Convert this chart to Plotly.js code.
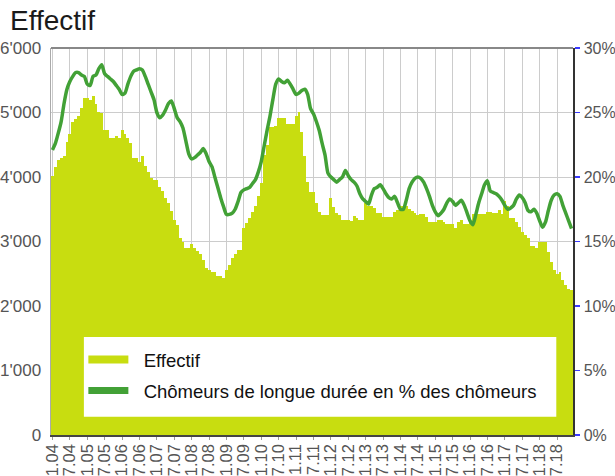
<!DOCTYPE html>
<html>
<head>
<meta charset="utf-8">
<script src="https://cdn.plot.ly/plotly-3.0.1.min.js"></script>
<style>html,body{margin:0;padding:0;background:#fff;}#chart{width:615px;height:476px;}</style>
</head>
<body>
<div id="chart"></div>
<script>
// Monthly categories Jan 2004 .. Dec 2018, labelled "m.yy"
var startYear = 2004, endYear = 2018;
var months = [];
for (var y = startYear; y <= endYear; y++) {
  for (var m = 1; m <= 12; m++) {
    months.push(m + '.' + String(y).slice(2));
  }
}
var tickLabels = months.filter(function (s) { return s.split('.')[0] === '1' || s.split('.')[0] === '7'; });

var effectif = [
  4020,4160,4260,4290,4325,4540,4665,4850,4895,4945,5065,5225,
  5225,5195,5255,5130,5015,4990,4730,4730,4610,4610,4635,4610,
  4730,4665,4610,4530,4300,4300,4240,4325,4170,4080,3980,3950,
  3950,3840,3780,3670,3590,3470,3333,3250,3050,2997,2904,2904,
  2961,2894,2858,2806,2713,2589,2560,2532,2532,2465,2465,2429,
  2558,2636,2739,2801,2868,2868,3204,3280,3359,3460,3550,3700,
  3900,4341,4496,4770,4770,4791,4910,4910,4910,4817,4817,4817,
  4946,5013,4703,4326,3928,3773,3773,3592,3463,3411,3411,3411,
  3669,3540,3447,3411,3333,3333,3333,3318,3401,3370,3333,3333,
  3592,3550,3550,3514,3437,3437,3385,3385,3385,3385,3463,3488,
  3550,3550,3550,3500,3470,3437,3411,3426,3426,3375,3307,3307,
  3307,3333,3333,3307,3271,3271,3271,3214,3307,3333,3266,3266,
  3307,3426,3426,3426,3426,3426,3462,3462,3440,3440,3488,3426,
  3633,3550,3359,3359,3300,3230,3152,3101,3049,2930,2930,2894,
  2987,2987,2987,2842,2687,2558,2500,2520,2403,2326,2270,2248
];

var partLongue = [
  22.1,22.6,23.4,24.3,25.7,26.8,27.4,27.8,28.1,28.1,27.9,27.8,
  27.2,27.1,27.8,27.9,28.4,28.7,28.0,27.8,27.6,27.4,27.1,26.8,
  26.4,26.5,27.2,27.8,28.2,28.3,28.4,28.3,27.8,27.2,26.6,26.0,
  25.0,24.6,24.8,25.2,25.7,25.9,25.3,24.6,24.3,23.8,22.8,21.8,
  21.4,21.5,21.7,21.9,22.2,21.8,21.2,20.8,20.0,19.2,18.4,17.7,
  17.1,17.1,17.2,17.5,18.1,18.8,19.0,19.1,19.2,19.5,19.8,20.4,
  21.2,22.4,23.6,24.7,26.0,27.2,27.6,27.4,27.3,27.5,27.2,26.8,
  26.4,26.5,26.7,26.8,26.4,25.3,24.9,24.3,23.6,22.6,21.7,20.3,
  20.0,19.8,19.6,19.8,20.0,20.5,20.1,19.8,19.6,19.3,18.7,18.3,
  18.1,17.9,18.6,19.1,19.2,19.4,19.1,18.7,18.4,18.3,18.5,18.0,
  17.5,17.5,18.2,19.1,19.6,19.9,20.0,19.9,19.6,19.1,18.5,17.8,
  17.3,17.0,17.2,17.5,18.0,18.3,18.1,17.8,18.0,18.2,17.8,17.2,
  16.6,16.3,17.1,18.0,18.7,19.4,19.7,18.9,18.8,18.7,18.5,18.2,
  17.8,17.5,17.6,17.8,18.3,18.6,18.4,18.0,17.4,17.3,17.5,17.2,
  16.6,16.1,16.5,17.4,18.2,18.6,18.7,18.5,17.8,17.2,16.6,16.0
];

var leftTickVals = [0, 1000, 2000, 3000, 4000, 5000, 6000];
var leftTickText = ["0", "1'000", "2'000", "3'000", "4'000", "5'000", "6'000"];
var rightTickVals = [0, 5, 10, 15, 20, 25, 30];
var rightTickText = ["0%", "5%", "10%", "15%", "20%", "25%", "30%"];

var nameBars = 'Effectif';
var nameLine = 'Chômeurs de longue durée en % des chômeurs';
var lime = '#c8dd10';
var green = '#42a136';
var pad = '\u00a0\u00a0';

var traces = [
  { type: 'bar', x: months, y: effectif, name: nameBars, marker: { color: lime, line: { width: 0 } },
    showlegend: false, hoverinfo: 'x+y' },
  { type: 'scatter', mode: 'lines', x: months, y: partLongue, yaxis: 'y2', name: nameLine,
    line: { color: green, width: 3.5, shape: 'spline', smoothing: 0.6 }, showlegend: false },
  // legend swatches
  { type: 'scatter', mode: 'lines', x: [null], y: [null], name: pad + nameBars, legendgroup: 'a',
    line: { color: lime, width: 8 }, hoverinfo: 'skip' },
  { type: 'scatter', mode: 'lines', x: [null], y: [null], name: pad + nameLine, legendgroup: 'b', yaxis: 'y2',
    line: { color: green, width: 7 }, hoverinfo: 'skip' }
];

var fam = 'Liberation Sans, Arial, sans-serif';

var layout = {
  width: 615, height: 476,
  margin: { l: 51, r: 42, t: 48, b: 41, pad: 0 },
  paper_bgcolor: '#ffffff', plot_bgcolor: '#ffffff',
  font: { family: fam, color: '#222' },
  title: { text: 'Effectif', x: 10 / 615, xref: 'container', xanchor: 'left',
           y: 1 - 20 / 476, yref: 'container', yanchor: 'middle',
           font: { family: fam, size: 28, color: '#1a1a1a' } },
  bargap: 0,
  showlegend: true,
  legend: { x: 0.062, xanchor: 'left', y: 0.243, yanchor: 'top', bgcolor: 'rgba(0,0,0,0)',
            borderwidth: 0, font: { family: fam, size: 18.5, color: '#111' },
            traceorder: 'grouped', tracegroupgap: 4, itemwidth: 40 },
  xaxis: { type: 'category', tickmode: 'array', tickvals: tickLabels, ticktext: tickLabels,
           tickangle: -90, tickfont: { family: fam, size: 16.5, color: '#555' },
           ticks: 'outside', ticklen: 3, tickcolor: '#999', ticklabelstandoff: -2,
           showgrid: true, gridcolor: '#cccccc', gridwidth: 1,
           showline: true, linecolor: '#444', linewidth: 1.5, zeroline: false,
           range: [-0.5, months.length - 0.5], fixedrange: true },
  yaxis: { range: [0, 6000], tickmode: 'array', tickvals: leftTickVals, ticktext: leftTickText,
           tickfont: { family: fam, size: 17, color: '#555' }, ticks: '', showgrid: true,
           gridcolor: '#cccccc', gridwidth: 1,
           showline: true, linecolor: '#aaaaaa', linewidth: 1.5, zeroline: false, ticklabelstandoff: 5 },
  yaxis2: { range: [0, 30], overlaying: 'y', side: 'right', tickmode: 'array', tickvals: rightTickVals,
            ticktext: rightTickText, tickfont: { family: fam, size: 16, color: '#555' },
            ticks: 'outside', ticklen: 5, tickcolor: '#3a3aff', ticklabelstandoff: 1,
            tickwidth: 1.5, showgrid: false, showline: true, linecolor: '#333', linewidth: 1.5, zeroline: false },
  shapes: [
    { type: 'rect', xref: 'paper', yref: 'paper', x0: 0.063, x1: 0.968, y0: 0.047, y1: 0.253,
      fillcolor: '#ffffff', line: { width: 0 }, layer: 'above' },
    { type: 'line', xref: 'paper', yref: 'paper', x0: 0, x1: 1, y0: 1, y1: 1,
      line: { color: '#888', width: 2 }, layer: 'above' }
  ]
};

Plotly.newPlot('chart', traces, layout, { displayModeBar: false, staticPlot: true });
</script>
</body>
</html>
